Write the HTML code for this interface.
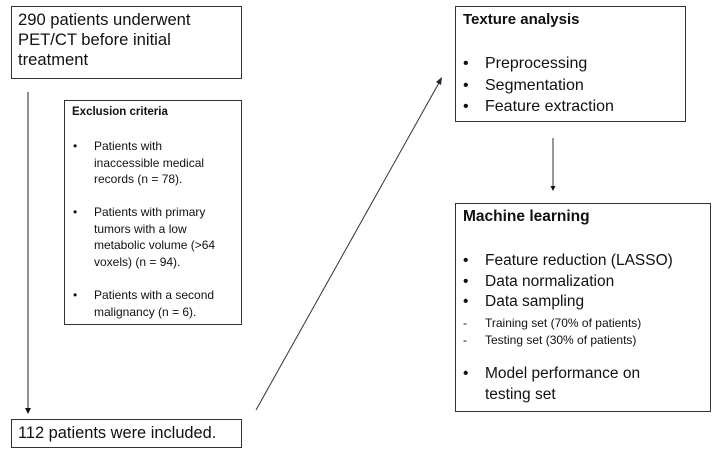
<!DOCTYPE html>
<html><head><style>
body{margin:0;width:727px;height:453px;background:#fff;position:relative;font-family:"Liberation Sans",sans-serif;color:#111;overflow:hidden}
.b{position:absolute;border:1.5px solid #333;box-sizing:border-box}
.t{position:absolute;white-space:nowrap}
</style></head><body>
<div class="b" style="left:11px;top:6px;width:231px;height:73px"></div>
<div class="t" style="left:18px;top:10px;font-size:16.6px;line-height:20px">290 patients underwent<br>PET/CT before initial<br>treatment</div>

<div class="b" style="left:64px;top:100px;width:178px;height:225px"></div>
<div class="t" style="left:72px;top:106px;font-size:11.5px;font-weight:bold">Exclusion criteria</div>
<div class="t" style="left:73px;top:138px;font-size:12px;line-height:16.5px">•</div>
<div class="t" style="left:94px;top:138px;font-size:12px;line-height:16.5px">Patients with<br>inaccessible medical<br>records (n = 78).</div>
<div class="t" style="left:73px;top:204px;font-size:12px;line-height:16.5px">•</div>
<div class="t" style="left:94px;top:204px;font-size:12px;line-height:16.5px">Patients with primary<br>tumors with a low<br>metabolic volume (&gt;64<br>voxels) (n = 94).</div>
<div class="t" style="left:73px;top:287px;font-size:12px;line-height:16.5px">•</div>
<div class="t" style="left:94px;top:287px;font-size:12px;line-height:16.5px">Patients with a second<br>malignancy (n = 6).</div>

<div class="b" style="left:11px;top:419px;width:231px;height:29px"></div>
<div class="t" style="left:18px;top:424px;font-size:16.4px">112 patients were included.</div>

<div class="b" style="left:455px;top:6px;width:231px;height:116px"></div>
<div class="t" style="left:463px;top:11px;font-size:15px;font-weight:bold">Texture analysis</div>
<div class="t" style="left:463px;top:53px;font-size:16px;line-height:21.5px">•<br>•<br>•</div>
<div class="t" style="left:485px;top:53px;font-size:16px;line-height:21.5px">Preprocessing<br>Segmentation<br>Feature extraction</div>

<div class="b" style="left:455px;top:203px;width:256px;height:209px"></div>
<div class="t" style="left:463px;top:208px;font-size:15.5px;font-weight:bold">Machine learning</div>
<div class="t" style="left:463px;top:251px;font-size:15.5px;line-height:20.5px">•<br>•<br>•</div>
<div class="t" style="left:485px;top:251px;font-size:15.5px;line-height:20.5px">Feature reduction (LASSO)<br>Data normalization<br>Data sampling</div>
<div class="t" style="left:463px;top:315px;font-size:12px;line-height:17px">-<br>-</div>
<div class="t" style="left:485px;top:315px;font-size:12px;line-height:17px">Training set (70% of patients)<br>Testing set (30% of patients)</div>
<div class="t" style="left:463px;top:364px;font-size:15.5px;line-height:20.5px">•</div>
<div class="t" style="left:485px;top:364px;font-size:15.5px;line-height:20.5px">Model performance on<br>testing set</div>

<svg width="727" height="453" style="position:absolute;left:0;top:0">
<line x1="28" y1="92" x2="28" y2="409" stroke="#555" stroke-width="1.3"/>
<polygon points="25,408 31,408 28,414" fill="#111"/>
<line x1="256" y1="410" x2="440" y2="81" stroke="#333" stroke-width="1"/>
<polygon points="442,77 441,85 436,82" fill="#223"/>
<line x1="553" y1="138" x2="553" y2="186" stroke="#555" stroke-width="1.2"/>
<polygon points="550.5,186 555.5,186 553,191" fill="#111"/>
</svg>
</body></html>
